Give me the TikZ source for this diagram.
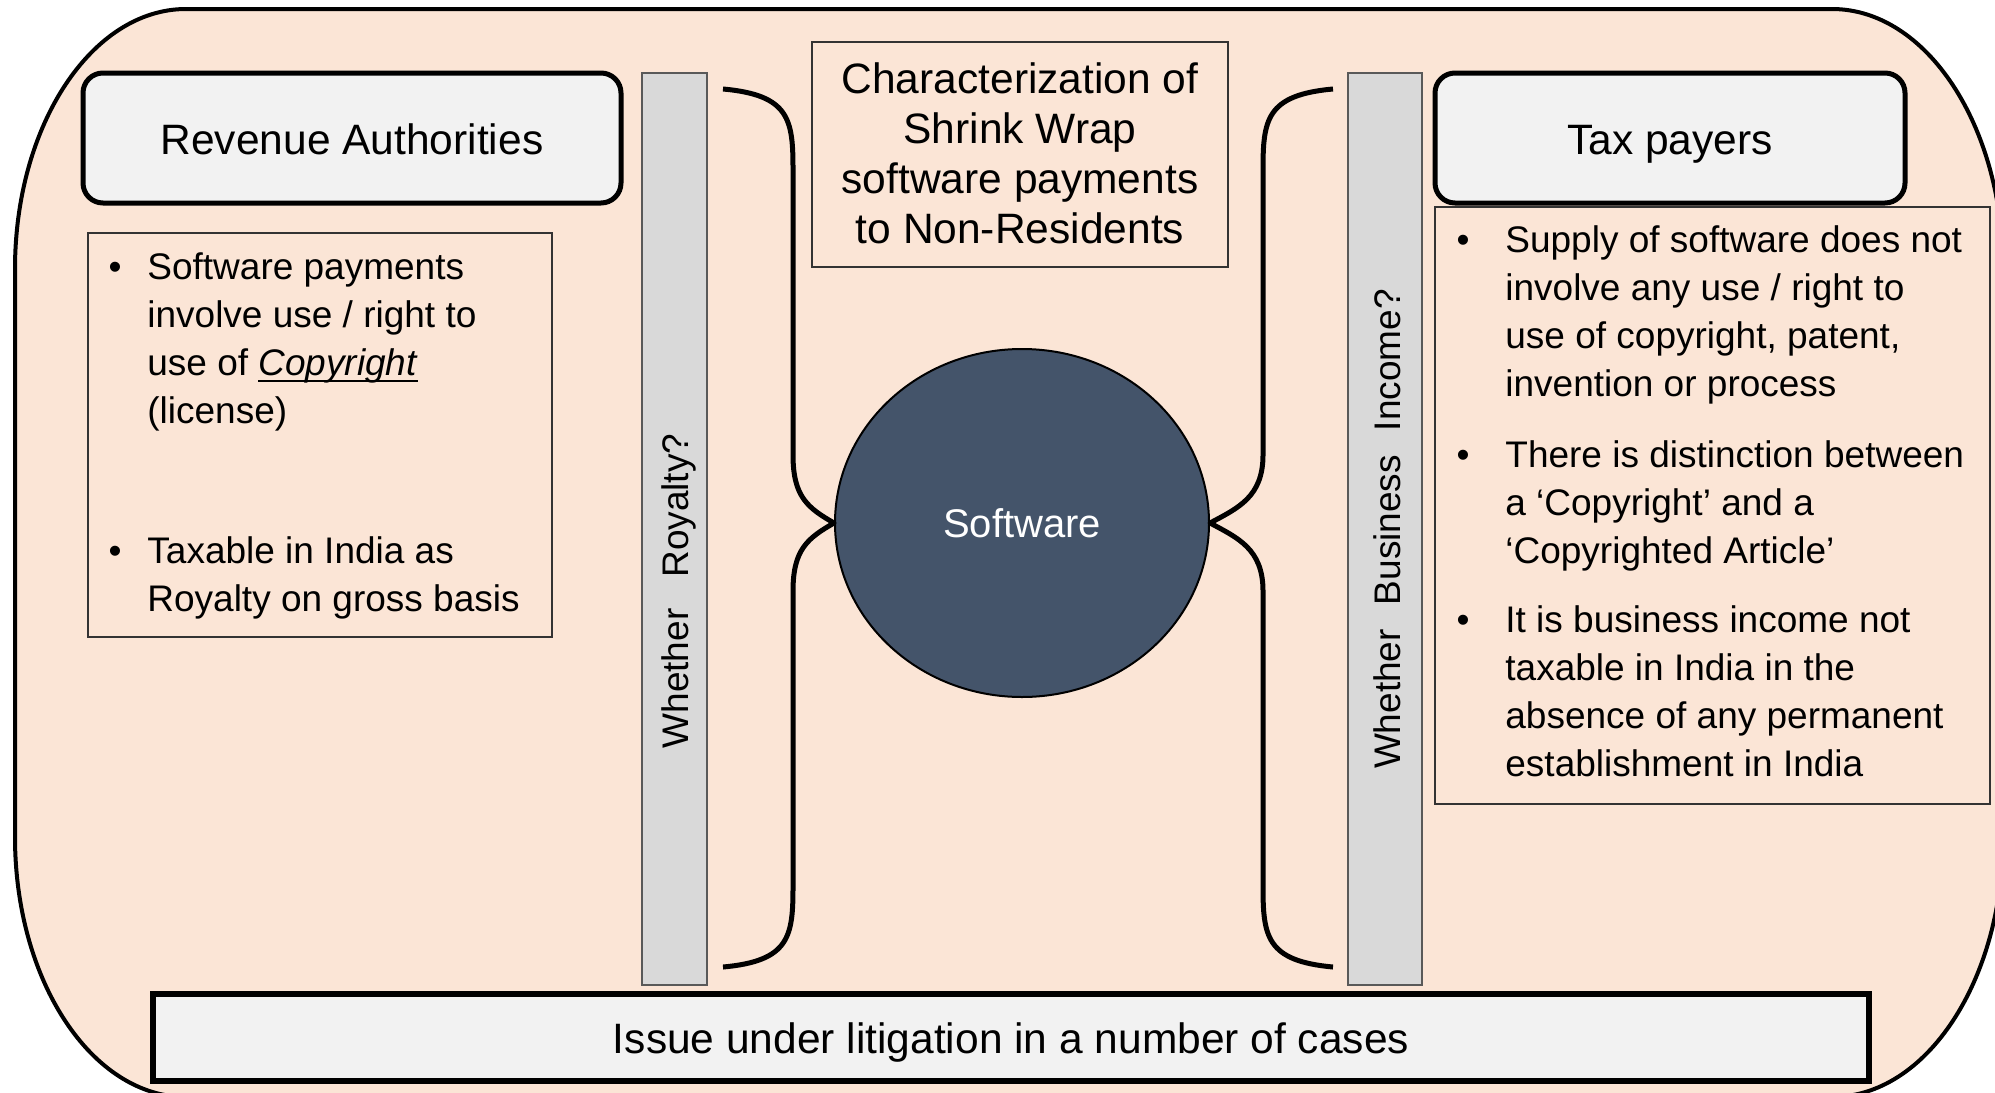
\documentclass[tikz,border=0pt]{standalone}
\usepackage{fontspec}
\setmainfont{Liberation Sans}
\usetikzlibrary{shapes.geometric}
\definecolor{peach}{HTML}{FBE5D6}
\definecolor{boxgray}{HTML}{F2F2F2}
\definecolor{bargray}{HTML}{D9D9D9}
\definecolor{slate}{HTML}{44546A}
\newcommand\mypara[1]{\vtop{\hsize=300pt\parindent=0pt\raggedright\fontsize{18.5}{24}\selectfont #1}}
\newcommand\myul[1]{\setbox0\hbox{#1}\rlap{\rule[-3.5pt]{\wd0}{0.9pt}}\box0}
\begin{document}
\begin{tikzpicture}[x=0.5pt,y=-0.5pt,
  hbox/.style={draw=black, line width=2.5pt, fill=boxgray, rounded corners=10pt},
  thinbox/.style={draw=black!80, line width=0.75pt},
  bar/.style={draw=black!65, line width=0.75pt, fill=bargray},
  brace/.style={draw=black, line width=2.5pt, line join=round},
  bigtxt/.style={font=\fontsize{21.25}{25}\selectfont, inner sep=0pt, anchor=base},
  bul/.style={font=\fontsize{18.5}{24}\selectfont, inner sep=0pt, anchor=base},
  ptxt/.style={inner sep=0pt, anchor=base west},
  vtxt/.style={font=\fontsize{18.5}{22}\selectfont, inner sep=0pt, anchor=base, rotate=90}]
\useasboundingbox (0,0) rectangle (1995,1092);
% outer frame
\draw[line width=2pt, fill=peach] (15,269) .. controls (15,125) and (92,9) .. (186,9) -- (1832,9)
  .. controls (1926,9) and (2003,125) .. (2003,269) -- (2003,837)
  .. controls (2003,981) and (1926,1097) .. (1832,1097) -- (186,1097)
  .. controls (92,1097) and (15,981) .. (15,837) -- cycle;
% heading boxes
\draw[hbox] (83,73) rectangle (621,203);
\draw[hbox] (1435,73) rectangle (1905,203);
\node[bigtxt] (revt) at (352,154) {Revenue Authorities};
\node[bigtxt] (taxt) at (1670,154) {Tax payers};
% bullet boxes
\draw[thinbox] (88,233) rectangle (552,637);
\draw[thinbox] (1435,207) rectangle (1990,804);
% title box
\draw[thinbox] (812,42) rectangle (1228,267);
\node[inner sep=0pt, anchor=base] (title) at (1020,93)
  {\vtop{\hsize=205pt\parindent=0pt\centering\fontsize{21.25}{25}\selectfont
  Characterization of\\Shrink Wrap\\software payments\\to Non-Residents}};
% bars
\draw[bar] (642,73) rectangle (707,985);
\draw[bar] (1348,73) rectangle (1422,985);
\node[vtxt] (vl) at (688,591) {Whether\hspace{15.5pt}Royalty?};
\node[vtxt] (vr) at (1400,529) {Whether\hspace{12pt}Business\hspace{12pt}Income?};
% central ellipse
\node[ellipse, draw=black, line width=1pt, fill=slate, text=white, inner sep=0pt,
  minimum width=187pt, minimum height=174pt, font=\fontsize{20}{24}\selectfont]
  (sw) at (1022,523) {Software};
% braces
\draw[brace] (723,89) .. controls (790,95) and (793,120) .. (793,170) -- (793,455)
  .. controls (793,497) and (808,508) .. (sw.west)
  .. controls (808,538) and (793,549) .. (793,591) -- (793,886)
  .. controls (793,936) and (790,961) .. (723,967);
\draw[brace] (1333,89) .. controls (1266,95) and (1263,120) .. (1263,170) -- (1263,455)
  .. controls (1263,497) and (1238,508) .. (sw.east)
  .. controls (1238,538) and (1263,549) .. (1263,591) -- (1263,886)
  .. controls (1263,936) and (1266,961) .. (1333,967);
% left bullets
\node[bul] (lb1) at (115,279) {•};
\node[ptxt] (lp1) at (147,279) {\mypara{Software payments\\involve use / right to\\use of \myul{\textit{Copyright}}\\(license)}};
\node[bul] (lb2) at (115,563) {•};
\node[ptxt] (lp2) at (147,563) {\mypara{Taxable in India as\\Royalty on gross basis}};
% right bullets
\node[bul] (rb1) at (1463,252) {•};
\node[ptxt] (rp1) at (1505,252) {\mypara{Supply of software does not\\involve any use / right to\\use of copyright, patent,\\invention or process}};
\node[bul] (rb2) at (1463,467) {•};
\node[ptxt] (rp2) at (1505,467) {\mypara{There is distinction between\\a ‘Copyright’ and a\\‘Copyrighted Article’}};
\node[bul] (rb3) at (1463,632) {•};
\node[ptxt] (rp3) at (1505,632) {\mypara{It is business income not\\taxable in India in the\\absence of any permanent\\establishment in India}};
% bottom box
\draw[line width=3pt, fill=boxgray] (153,994) rectangle (1869,1081);
\node[bigtxt] (isst) at (1011,1053) {Issue under litigation in a number of cases};
\end{tikzpicture}
\end{document}
